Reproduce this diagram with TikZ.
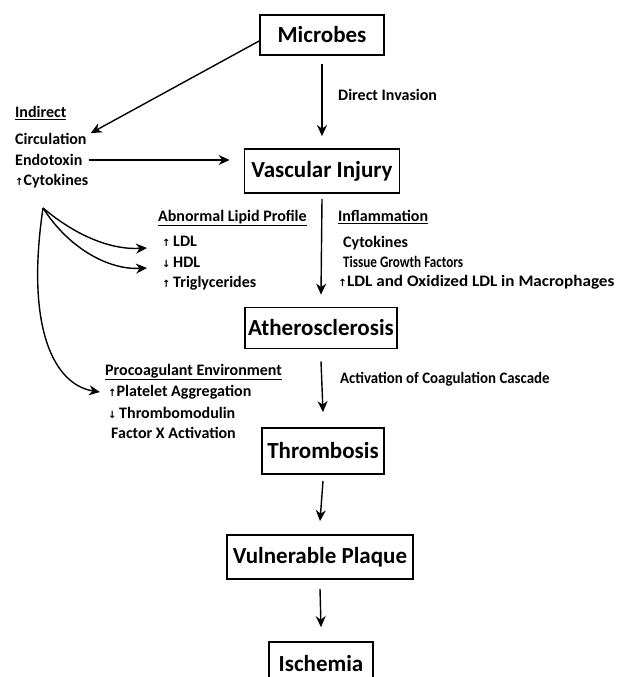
\documentclass[tikz,border=0pt]{standalone}
\usepackage{fontspec}
\setmainfont{Carlito}[BoldFont={Carlito Bold}]
\newfontfamily\symf{DejaVu Sans}
\usetikzlibrary{arrows.meta}
\newcommand{\up}{{\symf\fontsize{10}{10}\selectfont ↑}}
\newcommand{\dn}{{\symf\fontsize{10}{10}\selectfont ↓}}
\tikzset{
  box/.style={draw, line width=1.8pt, font=\bfseries\fontsize{23}{24}\selectfont, inner sep=0pt},
  txt/.style={font=\bfseries\fontsize{16}{17}\selectfont, inner sep=0pt, anchor=west},
  arr/.style={line width=1.4pt, -{Stealth[length=11pt,width=10pt]}},
}
\begin{document}
\begin{tikzpicture}[x=1pt,y=-1pt]
\clip (0,0) rectangle (619,677);
\fill[white] (0,0) rectangle (619,677);
% boxes
\node[box, minimum width=124pt, minimum height=40pt] (mic) at (322,35) {Microbes};
\node[box, minimum width=155pt, minimum height=44pt] (vi) at (322,171) {Vascular Injury};
\node[box, minimum width=152pt, minimum height=41pt] (ath) at (321,328) {Atherosclerosis};
\node[box, minimum width=122pt, minimum height=46pt] (thr) at (323,451) {Thrombosis};
\node[box, minimum width=186pt, minimum height=44pt] (vul) at (320,557) {Vulnerable Plaque};
\node[box, minimum width=104pt, minimum height=44pt] (isc) at (321,664) {Ischemia};
% main arrows
\draw[arr] ([yshift=-8pt]mic.south) -- ([yshift=12pt]vi.north);
\draw[arr] ([yshift=-5pt]vi.south) -- ([yshift=12pt]ath.north);
\draw[arr] ([yshift=-12pt]ath.south) -- ([yshift=15pt]thr.north);
\draw[arr] ([yshift=-6pt]thr.south) -- ([yshift=13pt]vul.north);
\draw[arr] ([yshift=-9pt]vul.south) -- ([yshift=14pt]isc.north);
\node[txt] (dinv) at (338,95) {Direct Invasion};
\node[txt] (acc) at (340,379) {\scalebox{0.93}[1]{Activation of Coagulation Cascade}};
% indirect block
\node[txt] (ind) at (15,113) {\underline{Indirect}};
\node[txt] (circ) at (15,139) {Circulation};
\node[txt] (endo) at (15,160) {Endotoxin};
\node[txt] (cyt) at (15,181) {\up Cytokines};
\draw[arr] ([yshift=-6pt]mic.west) -- ([xshift=4pt]circ.north east);
\draw[arr] ([xshift=6pt]endo.east) -- ([xshift=-14pt]endo.east -| vi.west);
% lipid block
\node[txt] (alp) at (158,218) {\underline{Abnormal Lipid Profile}};
\node[txt] (ldl) at (162,241) {\up\,LDL};
\node[txt] (hdl) at (162,262) {\dn\,HDL};
\node[txt] (tri) at (162,283) {\up\,Triglycerides};
% inflammation block
\node[txt] (infl) at (338,217) {\underline{Inflammation}};
\node[txt] (cyt2) at (343,243) {Cytokines};
\node[txt] (tgf) at (343,262) {\scalebox{0.82}[1]{Tissue Growth Factors}};
\node[txt] (oxl) at (338,282) {\scalebox{1.07}[1]{\up LDL and Oxidized LDL in Macrophages}};
% procoagulant block
\node[txt] (proc) at (105,372) {\underline{Procoagulant Environment}};
\node[txt] (plat) at (108,392) {\up Platelet Aggregation};
\node[txt] (thm) at (108,413) {\dn\,Thrombomodulin};
\node[txt] (fx) at (111,433) {Factor X Activation};
% curved arrows
\coordinate (split) at (43,208);
\draw[arr] (split) .. controls (75,235) and (110,250) .. ([xshift=-15pt,yshift=-7pt]ldl.west);
\draw[arr] (split) .. controls (70,250) and (110,270) .. ([xshift=-15pt,yshift=-6pt]hdl.west);
\draw[arr] (split) .. controls (25,330) and (55,385) .. ([xshift=-8pt]plat.west);
\end{tikzpicture}
\end{document}
